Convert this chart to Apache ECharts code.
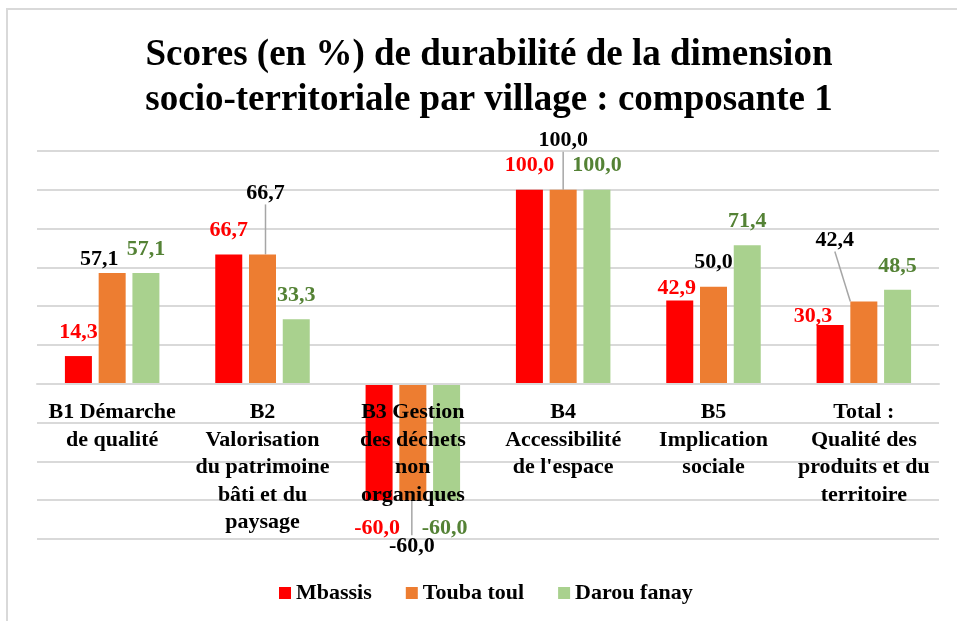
<!DOCTYPE html>
<html>
<head>
    <meta charset="UTF-8">
    <title>Scores de durabilité - composante 1</title>
    <script src="https://cdn.jsdelivr.net/npm/echarts@6/dist/echarts.min.js"></script>
    <style>
        html, body {
            margin: 0;
            padding: 0;
            background: #fff;
            overflow: hidden;
        }
        /* cadre gris du graphique (coin haut-gauche visible) */
        .frame {
            position: absolute;
            left: 6px;
            top: 8px;
            width: 1000px;
            height: 700px;
            border-left: 2px solid #d9d9d9;
            border-top: 2px solid #d9d9d9;
        }
        #chartContainer {
            position: absolute;
            left: 0;
            top: 0;
            width: 957px;
            height: 621px;
        }
    </style>
</head>
<body>
    <div class="frame"></div>
    <div id="chartContainer"></div>

    <script>
        const categories = [
            'B1 Démarche\nde qualité',
            'B2\nValorisation\ndu patrimoine\nbâti et du\npaysage',
            'B3 Gestion\ndes déchets\nnon\norganiques',
            'B4\nAccessibilité\nde l\'espace',
            'B5\nImplication\nsociale',
            'Total :\nQualité des\nproduits et du\nterritoire'
        ];
        const seriesNames = ['Mbassis', 'Touba toul', 'Darou fanay'];
        const mbassis = [14.3, 66.7, -60.0, 100.0, 42.9, 30.3];
        const toubaToul = [57.1, 66.7, -60.0, 100.0, 50.0, 42.4];
        const darouFanay = [57.1, 33.3, -60.0, 100.0, 71.4, 48.5];

        const font = '"Liberation Serif", "Times New Roman", serif';
        const barColors = ['#ff0000', '#ed7d31', '#a9d18e'];
        const labelColors = ['#ff0000', '#000000', '#548235'];

        // étiquettes déplacées à la main (comme dans Excel)
        const labelMoves = [
            [[0, 0], [0, 0], [-2, 4], [0, 0], [-3, 12], [-17, 15]],
            [[-13, 10], [3, -37], [-1, 22], [0, -25], [0, 0], [-29, -37]],
            [[0, 0], [0, 0], [-2, 4], [0, 0], [0, 0], [0, 1]]
        ];
        const leaderLines = [[], [1, 2, 3, 5], []];

        function fmt(v) {
            return v.toFixed(1).replace('.', ',');
        }

        function buildData(values, s) {
            return values.map((v, i) => ({
                value: v,
                label: { position: v < 0 ? 'bottom' : 'top' },
                labelLine: { show: leaderLines[s].includes(i) }
            }));
        }

        const allValues = [mbassis, toubaToul, darouFanay];

        const myChart = echarts.init(document.getElementById('chartContainer'));

        const option = {
            animation: false,
            title: {
                text: 'Scores (en %) de durabilité de la dimension\nsocio-territoriale par village : composante 1',
                left: 484,
                textAlign: 'center',
                top: 28,
                textStyle: {
                    fontFamily: font,
                    fontWeight: 'bold',
                    fontSize: 37,
                    lineHeight: 45,
                    color: '#000'
                }
            },
            legend: {
                data: seriesNames,
                top: 577,
                left: 274,
                icon: 'rect',
                itemWidth: 12,
                itemHeight: 12,
                itemGap: 34,
                textStyle: {
                    fontFamily: font,
                    fontWeight: 'bold',
                    fontSize: 22,
                    color: '#000'
                }
            },
            grid: {
                left: 37,
                right: 18,
                top: 151,
                bottom: 82,
                outerBoundsMode: 'none',
                containLabel: false
            },
            xAxis: {
                type: 'category',
                data: categories,
                z: 10,
                // axe remonté sur la ligne du zéro
                offset: -155,
                axisLine: {
                    onZero: false,
                    lineStyle: { color: '#d9d9d9', width: 2 }
                },
                axisTick: { show: false },
                axisLabel: {
                    interval: 0,
                    margin: 15,
                    fontFamily: font,
                    fontWeight: 'bold',
                    fontSize: 22,
                    lineHeight: 27.5,
                    color: '#000'
                }
            },
            yAxis: {
                type: 'value',
                min: -80,
                max: 120,
                interval: 20,
                axisLabel: { show: false },
                axisLine: { show: false },
                axisTick: { show: false },
                splitLine: {
                    lineStyle: { color: '#d9d9d9', width: 2 }
                }
            },
            series: seriesNames.map((name, s) => ({
                name: name,
                type: 'bar',
                barWidth: 27,
                barGap: '25%',
                itemStyle: { color: barColors[s] },
                label: {
                    show: true,
                    distance: 13,
                    color: labelColors[s],
                    fontFamily: font,
                    fontWeight: 'bold',
                    fontSize: 22,
                    formatter: p => fmt(p.value)
                },
                labelLayout: p => ({
                    dx: labelMoves[s][p.dataIndex][0],
                    dy: labelMoves[s][p.dataIndex][1]
                }),
                labelLine: {
                    show: false,
                    lineStyle: { color: '#a6a6a6', width: 1.5 }
                },
                data: buildData(allValues[s], s)
            }))
        };

        myChart.setOption(option);

        window.addEventListener('resize', function() {
            myChart && myChart.resize();
        });
    </script>
</body>
</html>
